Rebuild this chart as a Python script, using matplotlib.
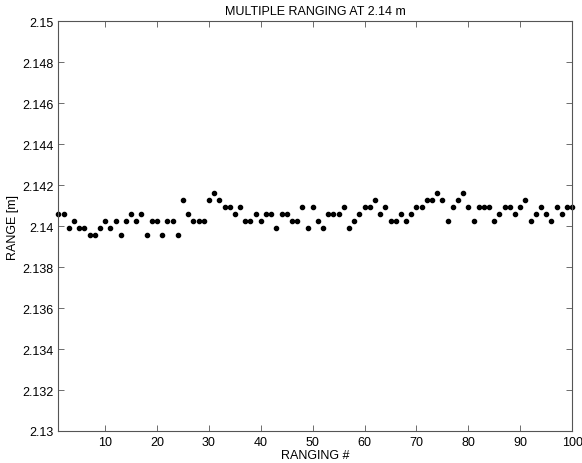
import matplotlib
matplotlib.use('Agg')
import matplotlib.pyplot as plt
from matplotlib.ticker import FuncFormatter

# Ranging measurements (m), one per ranging number
ranging = list(range(1, 101))
ranges = [
    2.14058, 2.14058, 2.13990, 2.14024, 2.13990, 2.13990, 2.13956, 2.13956, 2.13990, 2.14024,
    2.13990, 2.14024, 2.13956, 2.14024, 2.14058, 2.14024, 2.14058, 2.13956, 2.14024, 2.14024,
    2.13956, 2.14024, 2.14024, 2.13956, 2.14126, 2.14058, 2.14024, 2.14024, 2.14024, 2.14126,
    2.14160, 2.14126, 2.14092, 2.14092, 2.14058, 2.14092, 2.14024, 2.14024, 2.14058, 2.14024,
    2.14058, 2.14058, 2.13990, 2.14058, 2.14058, 2.14024, 2.14024, 2.14092, 2.13990, 2.14092,
    2.14024, 2.13990, 2.14058, 2.14058, 2.14058, 2.14092, 2.13990, 2.14024, 2.14058, 2.14092,
    2.14092, 2.14126, 2.14058, 2.14092, 2.14024, 2.14024, 2.14058, 2.14024, 2.14058, 2.14092,
    2.14092, 2.14126, 2.14126, 2.14160, 2.14126, 2.14024, 2.14092, 2.14126, 2.14160, 2.14092,
    2.14024, 2.14092, 2.14092, 2.14092, 2.14024, 2.14058, 2.14092, 2.14092, 2.14058, 2.14092,
    2.14126, 2.14024, 2.14058, 2.14092, 2.14058, 2.14024, 2.14092, 2.14058, 2.14092, 2.14092,
]
x_ticks = [10, 20, 30, 40, 50, 60, 70, 80, 90, 100]
y_ticks = [2.13, 2.132, 2.134, 2.136, 2.138, 2.14, 2.142, 2.144, 2.146, 2.148, 2.15]

plt.rcParams['font.family'] = ['Liberation Sans', 'DejaVu Sans']
plt.rcParams['font.size'] = 9

fig = plt.figure(figsize=(5.82, 4.64), dpi=100)
ax = fig.add_axes([0.1005, 0.069, 0.8825, 0.883])

ax.plot(ranging, ranges, 'o', color='black', markersize=3.0, clip_on=False)

ax.set_xlim(1, 100)
ax.set_ylim(2.13, 2.15)
ax.set_xticks(x_ticks)
ax.set_yticks(y_ticks)
ax.yaxis.set_major_formatter(FuncFormatter(lambda v, p: f"{v:g}"))
ax.tick_params(direction='in', top=True, right=True, length=4,
               width=0.6, color='#555555', labelsize=9)
for s in ax.spines.values():
    s.set_color('#555555')
    s.set_linewidth(0.8)

ax.set_title("MULTIPLE RANGING AT 2.14 m", fontsize=9, pad=5)
ax.set_xlabel("RANGING #", fontsize=9, labelpad=1)
ax.set_ylabel("RANGE [m]", fontsize=9, labelpad=2)

fig.savefig('out.png', dpi=100)
